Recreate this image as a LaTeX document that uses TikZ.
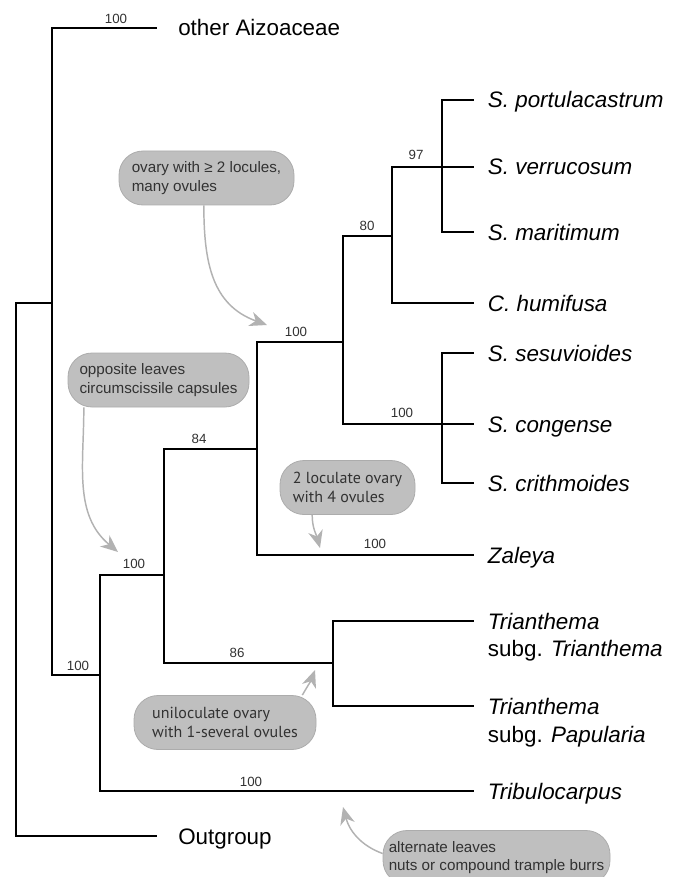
\documentclass[tikz,border=0pt]{standalone}
\usepackage{fontspec}
\setmainfont{Liberation Sans}
\newfontfamily\humfont{PT Sans}
\usepackage{tikz}
\usetikzlibrary{arrows.meta}
\usetikzlibrary{positioning}

\definecolor{boxgray}{RGB}{191,191,191}
\definecolor{boxedge}{RGB}{172,172,172}
\definecolor{arrowgray}{RGB}{178,178,178}
\definecolor{textgray}{RGB}{50,50,50}

\tikzset{
    branch/.style={line width=1.5pt, line cap=rect},
    leaf/.style={anchor=west, inner xsep=11pt, inner ysep=0pt, text height=12pt, text depth=0pt,
        font=\fontsize{16.8}{20}\selectfont},
    species/.style={leaf, font=\fontsize{16.8}{20}\selectfont\itshape},
    taxon/.style={leaf, inner xsep=16.5pt},
    bs/.style={inner sep=0pt, text height=7pt, text depth=0pt, text=textgray,
        font=\fontsize{10}{11}\selectfont},
    note/.style={fill=boxgray, draw=boxedge, line width=0.6pt, rounded corners=18pt,
        align=left, inner sep=0pt, minimum height=40.5pt, text=textgray,
        font=\fontsize{11.4}{13.7}\selectfont},
    humanist/.style={font=\humfont\fontsize{12}{13.7}\selectfont},
    pointer/.style={draw=arrowgray, line width=1.1pt,
        -{Stealth[length=13pt, width=11pt, inset=4pt]}}
}

\begin{document}
\begin{tikzpicture}[x=0.75pt, y=-0.75pt]
    \useasboundingbox (0,0) rectangle (680,877);

    \coordinate (root) at (16,303);
    \coordinate (nA)   at (52,303);
    \coordinate (nB)   at (100,675);
    \coordinate (nC)   at (164,575);
    \coordinate (nE)   at (257,449);
    \coordinate (nF)   at (343,342);
    \coordinate (nH)   at (392,236);
    \coordinate (nG1)  at (442,167);
    \coordinate (nG2)  at (442,424);
    \coordinate (nD)   at (333,663);

    \node[taxon]   (aizo) at (156,28)  {other Aizoaceae};
    \node[taxon]   (outg) at (156,836) {Outgroup};
    \node[species] (port) at (473,100) {S. portulacastrum};
    \node[species] (verr) at (473,167) {S. verrucosum};
    \node[species] (mari) at (473,232) {S. maritimum};
    \node[species] (humi) at (473,303) {C. humifusa};
    \node[species] (sesu) at (473,353) {S. sesuvioides};
    \node[species] (cong) at (473,424) {S. congense};
    \node[species] (crit) at (473,483) {S. crithmoides};
    \node[species] (zal)  at (473,555) {Zaleya};
    \node[species] (triA) at (473,621) {Trianthema};
    \node[leaf]    (triAsub) at (473,648) {subg. \textit{Trianthema}};
    \node[species] (triP) at (473,706) {Trianthema};
    \node[leaf]    (triPsub) at (473,734) {subg. \textit{Papularia}};
    \node[species] (trib) at (473,791) {Tribulocarpus};

    \draw[branch] (root) |- (nA);
    \draw[branch] (root) |- (outg.west);
    \draw[branch] (nA) |- (aizo.west);
    \draw[branch] (nA) |- (nB);
    \draw[branch] (nB) |- (nC);
    \draw[branch] (nB) |- (trib.west);
    \draw[branch] (nC) |- (nE);
    \draw[branch] (nC) |- (nD);
    \draw[branch] (nE) |- (nF);
    \draw[branch] (nE) |- (zal.west);
    \draw[branch] (nF) |- (nH);
    \draw[branch] (nF) |- (nG2);
    \draw[branch] (nH) |- (nG1);
    \draw[branch] (nH) |- (humi.west);
    \draw[branch] (nD) |- (triA.west);
    \draw[branch] (nD) |- (triP.west);
    \foreach \t in {port, verr, mari}
        \draw[branch] (nG1) |- (\t.west);
    \foreach \t in {sesu, cong, crit}
        \draw[branch] (nG2) |- (\t.west);

    \node[bs] (bsAizo) at (116,19)  {100};
    \node[bs] (bsG1)   at (416,155) {97};
    \node[bs] (bsH)    at (367,226) {80};
    \node[bs] (bsF)    at (296,332) {100};
    \node[bs] (bsG2)   at (402,413) {100};
    \node[bs] (bsE)    at (199,439) {84};
    \node[bs] (bsZal)  at (375,544) {100};
    \node[bs] (bsC)    at (134,564) {100};
    \node[bs] (bsD)    at (237,653) {86};
    \node[bs] (bsB)    at (78,666)  {100};
    \node[bs] (bsTrib) at (251,782) {100};

    \node[note, minimum width=131.25pt] (ovary) at (206.5,178) {ovary with ≥ 2 locules,\\many ovules};
    \node[note, minimum width=135.75pt] (opleaf) at (158.5,380) {opposite leaves\\circumscissile capsules};
    \node[note, humanist, minimum width=101.25pt] (biloc) at (347.5,487.5) {2 loculate ovary\\with 4 ovules};
    \node[note, humanist, minimum width=136.5pt] (uniloc) at (225,722.5) {uniloculate ovary\\with 1-several ovules};
    \node[note, minimum width=170.25pt] (altleaf) at (496.5,857.5) {alternate leaves\\nuts or compound trample burrs};

    \coordinate (tipF)    at (267,325);
    \coordinate (tipB)    at (118,552);
    \coordinate (tipZal)  at (320,548);
    \coordinate (tipD)    at (315,670);
    \coordinate (tipTrib) at (343,807);

    \draw[pointer] ([xshift=-2pt]ovary.south) to[out=-90, in=160, looseness=1.1] (tipF);
    \draw[pointer] ([xshift=-56pt]opleaf.south) to[out=-90, in=140] (tipB);
    \draw[pointer] ([xshift=-26.5pt]biloc.south) to[out=-90, in=105] (tipZal);
    \draw[pointer] ([xshift=58pt]uniloc.north) to[out=60, in=-110] (tipD);
    \draw[pointer] ([yshift=3pt]altleaf.west) to[out=160, in=-75] (tipTrib);
\end{tikzpicture}
\end{document}
